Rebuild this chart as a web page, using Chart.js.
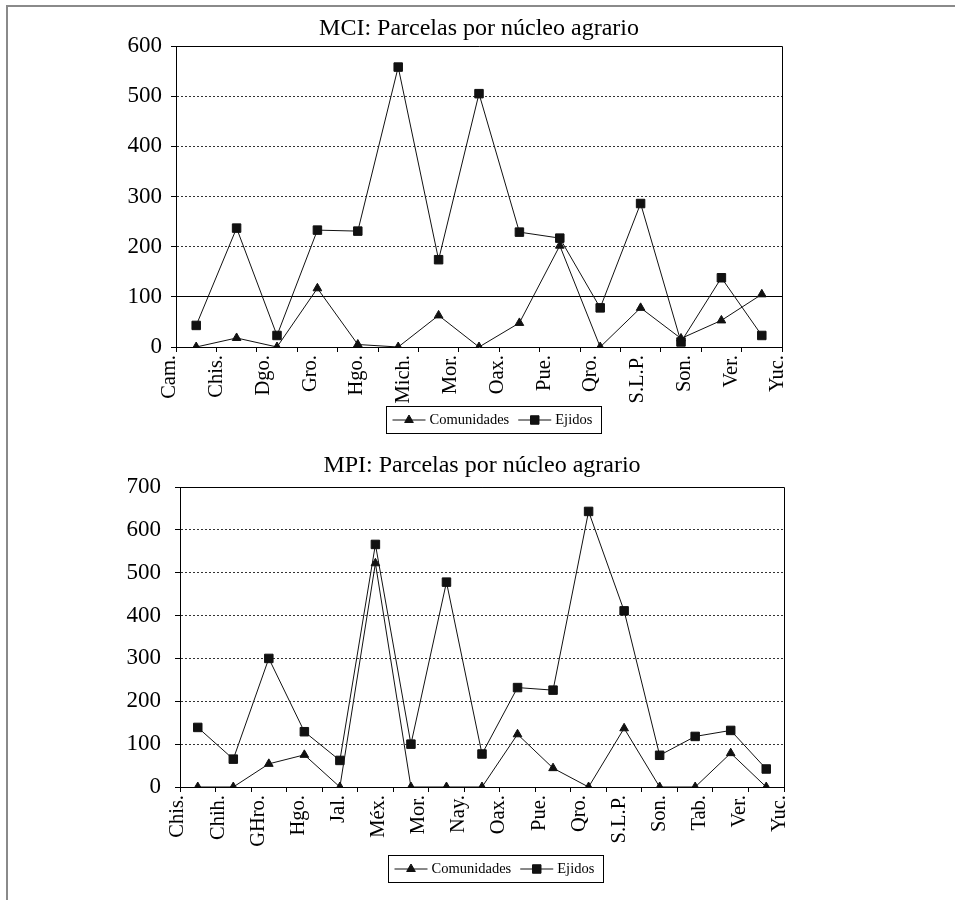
<!DOCTYPE html>
<html><head><meta charset="utf-8">
<script src="https://cdn.jsdelivr.net/npm/chart.js@4.4.1/dist/chart.umd.min.js"></script>
<style>
html,body{margin:0;padding:0;background:#fff;}
body{width:955px;height:900px;position:relative;overflow:hidden;}
#frame{position:absolute;left:6px;top:5px;right:0;bottom:0;border-top:2px solid #8a8a8a;border-left:2px solid #8a8a8a;}
canvas{position:absolute;left:0;}
#c1{top:0;}
#c2{top:440px;}
</style></head><body>
<div id="frame"></div>
<canvas id="c1" width="955" height="440"></canvas>
<canvas id="c2" width="955" height="460"></canvas>
<script>
// ---- data: MCI ----
const mciTitle = 'MCI: Parcelas por núcleo agrario';
const mciLabels = ['Cam.','Chis.','Dgo.','Gro.','Hgo.','Mich.','Mor.','Oax.','Pue.','Qro.','S.L.P.','Son.','Ver.','Yuc.'];
const mciComunidades = [0, 18, 0, 117, 5, 0, 63, 0, 48, 202, 0, 78, 17, 53, 105];
const mciEjidos = [43, 237, 23, 233, 231, 558, 174, 505, 229, 217, 78, 286, 10, 138, 23];
const mciYMax = 600;

// ---- data: MPI ----
const mpiTitle = 'MPI: Parcelas por núcleo agrario';
const mpiLabels = ['Chis.','Chih.','GHro.','Hgo.','Jal.','Méx.','Mor.','Nay.','Oax.','Pue.','Qro.','S.L.P.','Son.','Tab.','Ver.','Yuc.'];
const mpiComunidades = [0, 0, 54, 75, 0, 522, 0, 0, 0, 123, 44, 0, 137, 0, 0, 79, 0];
const mpiEjidos = [139, 65, 300, 129, 62, 566, 100, 478, 77, 232, 226, 643, 411, 74, 118, 132, 42];
const mpiYMax = 700;

const yStep = 100;
const seriesNames = ['Comunidades', 'Ejidos'];

const SERIF = '"Liberation Serif", "Times New Roman", serif';
Chart.defaults.font.family = SERIF;
Chart.defaults.color = '#000';

const align = p => Math.round(p - 0.5) + 0.5;

function drawMarker(ctx, style, x, y, r) {
  ctx.beginPath();
  if (style === 'triangle') {
    ctx.moveTo(x, y - r);
    ctx.lineTo(x + 0.866 * r, y + 0.5 * r);
    ctx.lineTo(x - 0.866 * r, y + 0.5 * r);
    ctx.closePath();
  } else {
    const s = r * Math.SQRT1_2;
    ctx.rect(x - s, y - s, 2 * s, 2 * s);
  }
  ctx.fill();
  ctx.stroke();
}

const decor = {
  id: 'decor',
  beforeDatasetsDraw(chart, args, opts) {
    const {ctx, chartArea: a, scales: {y}} = chart;
    ctx.save();
    ctx.strokeStyle = '#000';
    ctx.lineWidth = 1;
    ctx.setLineDash([]);
    ctx.beginPath();
    ctx.moveTo(a.left, align(a.top));
    ctx.lineTo(align(a.right), align(a.top));
    ctx.lineTo(align(a.right), a.bottom);
    if (opts.solidAt != null) {
      const py = align(y.getPixelForValue(opts.solidAt));
      ctx.moveTo(a.left, py);
      ctx.lineTo(a.right, py);
    }
    ctx.stroke();
    ctx.restore();
  },
  afterDraw(chart, args, opts) {
    const {ctx, chartArea: a} = chart;
    ctx.save();
    ctx.font = opts.fontSize + 'px ' + SERIF;
    ctx.textBaseline = 'middle';
    ctx.textAlign = 'left';
    const items = chart.data.datasets.map(d => ({text: d.label, style: d.pointStyle, color: d.borderColor, r: d.pointRadius}));
    const padL = 6, sample = 33, gap = 4, between = 9, padR = 9, h = 27;
    let w = padL + padR;
    items.forEach((it, i) => { it.tw = ctx.measureText(it.text).width; w += sample + gap + it.tw + (i ? between : 0); });
    const cx = (a.left + a.right) / 2 + opts.dx;
    const left = Math.round(cx - w / 2) + 0.5;
    const top = Math.round(a.bottom + opts.dy) + 0.5;
    ctx.strokeStyle = '#000';
    ctx.lineWidth = 1;
    ctx.strokeRect(left, top, Math.round(w), h);
    const cy = top + h / 2;
    let x = left + padL;
    items.forEach((it, i) => {
      if (i) x += between;
      ctx.strokeStyle = it.color;
      ctx.fillStyle = it.color;
      ctx.beginPath();
      ctx.moveTo(x, cy);
      ctx.lineTo(x + sample, cy);
      ctx.stroke();
      drawMarker(ctx, it.style, x + sample / 2, cy, it.r);
      x += sample + gap;
      ctx.fillStyle = '#000';
      ctx.fillText(it.text, x, cy + 0.5);
      x += it.tw;
    });
    ctx.restore();
  }
};

function makeChart(canvas, c) {
  const n = c.com.length;
  const mk = (label, vals, style, r) => ({
    label, data: vals.map((v, i) => ({x: i + 0.5, y: v})),
    borderColor: '#111', backgroundColor: '#111', borderWidth: 1, tension: 0,
    pointStyle: style, pointRadius: r, pointHoverRadius: r,
    pointBackgroundColor: '#111', pointBorderColor: '#111', pointBorderWidth: 1,
    xAxisID: 'x', yAxisID: 'y'
  });
  return new Chart(canvas, {
    type: 'line',
    data: { datasets: [mk(seriesNames[0], c.com, 'triangle', 5), mk(seriesNames[1], c.ej, 'rect', 6)] },
    plugins: [decor],
    options: {
      responsive: false, animation: false, devicePixelRatio: 1,
      layout: { padding: c.pad },
      plugins: {
        legend: { display: false },
        tooltip: { enabled: false },
        title: { display: true, text: c.title, fullSize: false, color: '#000',
          font: { family: SERIF, size: 24, weight: 'normal' }, padding: c.titlePad },
        decor: { solidAt: c.solidAt, dx: c.legDx, dy: c.legDy, fontSize: 14.5 }
      },
      scales: {
        x: {
          type: 'linear', position: 'bottom', min: 0, max: n, weight: 0,
          afterBuildTicks: s => { s.ticks = Array.from({length: n + 1}, (_, i) => ({value: i})); },
          ticks: { display: false },
          grid: { display: true, drawOnChartArea: false, drawTicks: true, tickLength: 5, color: '#000', tickColor: '#000', lineWidth: 1 },
          border: { display: true, color: '#000', width: 1 },
          afterFit: s => { s.height = 5; }
        },
        xl: {
          type: 'linear', position: 'bottom', min: c.labMin, max: c.labMax, weight: 1,
          afterBuildTicks: s => { s.ticks = c.labels.map((_, i) => ({value: i})); },
          ticks: { autoSkip: false, minRotation: 90, maxRotation: 90, padding: -5, color: '#000',
            font: { family: SERIF, size: 20.5 }, callback: (v, i) => c.labels[i] },
          grid: { display: false }, border: { display: false },
          afterFit: s => { s.height = 58; }
        },
        y: {
          type: 'linear', min: 0, max: c.yMax,
          ticks: { stepSize: yStep, padding: c.yPad, color: '#000', font: { family: SERIF, size: 23 } },
          grid: { color: '#333', lineWidth: 1, drawTicks: true, tickLength: 5, tickColor: '#000' },
          border: { display: true, color: '#000', width: 1, dash: [2, 2] },
          afterFit: s => { s.width = 60; }
        }
      }
    }
  });
}

makeChart(document.getElementById('c1'), {
  title: mciTitle, labels: mciLabels, com: mciComunidades, ej: mciEjidos, yMax: mciYMax,
  pad: {left: 116, right: 173, top: 0, bottom: 30}, titlePad: {top: 14.5, bottom: 2.7},
  labMin: 0.128, labMax: 13.085, yPad: 9, solidAt: 100, legDx: 14.5, legDy: 59
});
makeChart(document.getElementById('c2'), {
  title: mpiTitle, labels: mpiLabels, com: mpiComunidades, ej: mpiEjidos, yMax: mpiYMax,
  pad: {left: 120, right: 171, top: 0, bottom: 50}, titlePad: {top: 11.5, bottom: 6.7},
  labMin: 0.05, labMax: 15.1, yPad: 14, solidAt: null, legDx: 13.3, legDy: 68
});
</script>
</body></html>
